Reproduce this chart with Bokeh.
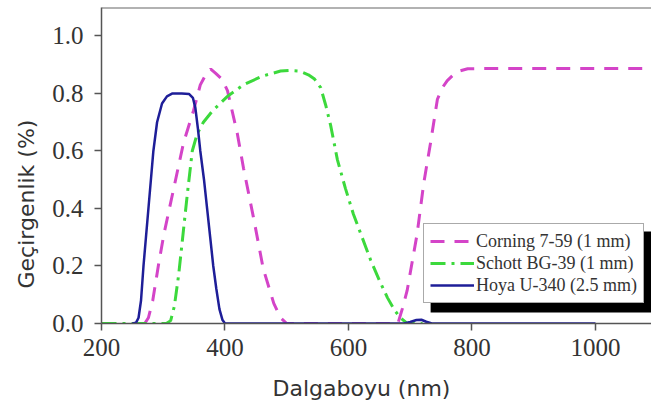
from bokeh.plotting import figure
from bokeh.models import (Range1d, Span, BoxAnnotation, Legend, LegendItem, FixedTicker,
                          CustomJSTickFormatter, Title)
from bokeh.embed import file_html
from bokeh.resources import INLINE

# Wavelength (nm) and transmittance
corning_x = [270, 276, 283, 292, 301, 317, 333, 349, 360, 370, 377, 385, 395, 404, 420, 430, 446, 462, 479, 490, 500,
             680, 687, 695, 711, 722, 733, 744, 752, 760, 775, 793, 850, 950, 1100]
corning_y = [0, 0.02, 0.08, 0.2, 0.31, 0.47, 0.63, 0.74, 0.83, 0.87, 0.885, 0.87, 0.85, 0.81, 0.66, 0.54, 0.37, 0.19, 0.07, 0.02, 0,
             0, 0.05, 0.115, 0.31, 0.49, 0.63, 0.78, 0.82, 0.845, 0.875, 0.886, 0.887, 0.887, 0.887]

schott_x = [200, 305, 312, 318, 325, 332, 339, 347, 355, 365, 380, 404, 430, 460, 490, 506, 520, 535, 545, 555, 563,
            571, 582, 595, 608, 622, 636, 650, 663, 675, 684, 695, 720]
schott_y = [0, 0, 0.01, 0.06, 0.17, 0.31, 0.45, 0.6, 0.66, 0.7, 0.74, 0.79, 0.83, 0.86, 0.878, 0.88, 0.878, 0.865, 0.85,
            0.82, 0.76, 0.69, 0.57, 0.47, 0.38, 0.3, 0.22, 0.15, 0.09, 0.045, 0.02, 0.0, 0]

hoya_x = [250, 256, 260, 264, 268, 272, 276, 280, 284, 290, 298, 306, 315, 330, 342, 348, 352, 356, 360, 366, 371, 376,
          381, 386, 391, 396, 400, 690, 700, 710, 718, 726, 735, 1000]
hoya_y = [0, 0.003, 0.02, 0.08, 0.2, 0.3, 0.4, 0.5, 0.6, 0.7, 0.765, 0.79, 0.8, 0.8, 0.798, 0.785, 0.75, 0.68, 0.6, 0.5,
          0.4, 0.3, 0.2, 0.12, 0.05, 0.012, 0, 0, 0.005, 0.012, 0.013, 0.006, 0, 0]

names = ["Corning 7-59 (1 mm)", "Schott BG-39 (1 mm)", "Hoya U-340 (2.5 mm)"]
x_ticks = [200, 400, 600, 800, 1000]
y_ticks = [0.0, 0.2, 0.4, 0.6, 0.8, 1.0]
x_title = "Dalgaboyu (nm)"
y_title = "Geçirgenlik (%)"

X_END = 1090.7
Y_END = 1.099

p = figure(width=651, height=418, output_backend="svg", toolbar_location=None,
           x_range=Range1d(200, X_END), y_range=Range1d(0, Y_END),
           min_border_left=101, min_border_right=0, min_border_top=7, min_border_bottom=95)
p.outline_line_color = None
p.xgrid.visible = False
p.ygrid.visible = False
p.background_fill_color = "white"

r1 = p.line(corning_x, corning_y, line_color="#d444c8", line_width=3, line_dash="14 10")
r2 = p.line(schott_x, schott_y, line_color="#3cd93c", line_width=3, line_dash="15 6 3 6")
r3 = p.line(hoya_x, hoya_y, line_color="#1e1e98", line_width=2.5)

p.add_layout(Span(location=Y_END, dimension="width", line_color="#666666", line_width=2))

for ax in (p.xaxis[0], p.yaxis[0]):
    ax.axis_line_color = "#555555"
    ax.axis_line_width = 1.5
    ax.major_tick_line_color = "#555555"
    ax.major_tick_line_width = 1.5
    ax.major_tick_out = 7
    ax.major_tick_in = 0
    ax.minor_tick_line_color = None
    ax.major_label_text_font = "Liberation Serif"
    ax.major_label_text_font_size = "25px"
    ax.major_label_text_color = "#333333"

p.xaxis.ticker = FixedTicker(ticks=x_ticks)
p.yaxis.ticker = FixedTicker(ticks=y_ticks)
p.yaxis.formatter = CustomJSTickFormatter(code="return tick.toFixed(1)")
p.xaxis.major_label_standoff = 8
p.yaxis.major_label_standoff = 11

# axis titles as side titles (offset to match the reference placement)
p.add_layout(Title(text=x_title, align="left", offset=171, standoff=30,
                   text_font="DejaVu Sans", text_font_size="22px", text_font_style="normal",
                   text_color="#333333"), "below")
p.add_layout(Title(text=y_title, align="left", offset=35, standoff=21,
                   text_font="DejaVu Sans", text_font_size="22px", text_font_style="normal",
                   text_color="#333333"), "left")

# legend shadow
p.add_layout(BoxAnnotation(left=733.0, right=X_END, bottom=0.038, top=0.32, fill_color="black", fill_alpha=1,
                           line_color=None))

legend = Legend(items=[LegendItem(label=names[0], renderers=[r1]),
                       LegendItem(label=names[1], renderers=[r2]),
                       LegendItem(label=names[2], renderers=[r3])],
                location=(322, 20), padding=6, spacing=0, margin=0,
                glyph_height=22, label_height=22, glyph_width=44, label_standoff=2,
                label_text_font="Liberation Serif", label_text_font_size="18px",
                label_text_color="#333333",
                border_line_color="#555555", border_line_width=1.5,
                background_fill_color="white", background_fill_alpha=1)
p.add_layout(legend)

open("out.html", "w").write(file_html(p, INLINE))
